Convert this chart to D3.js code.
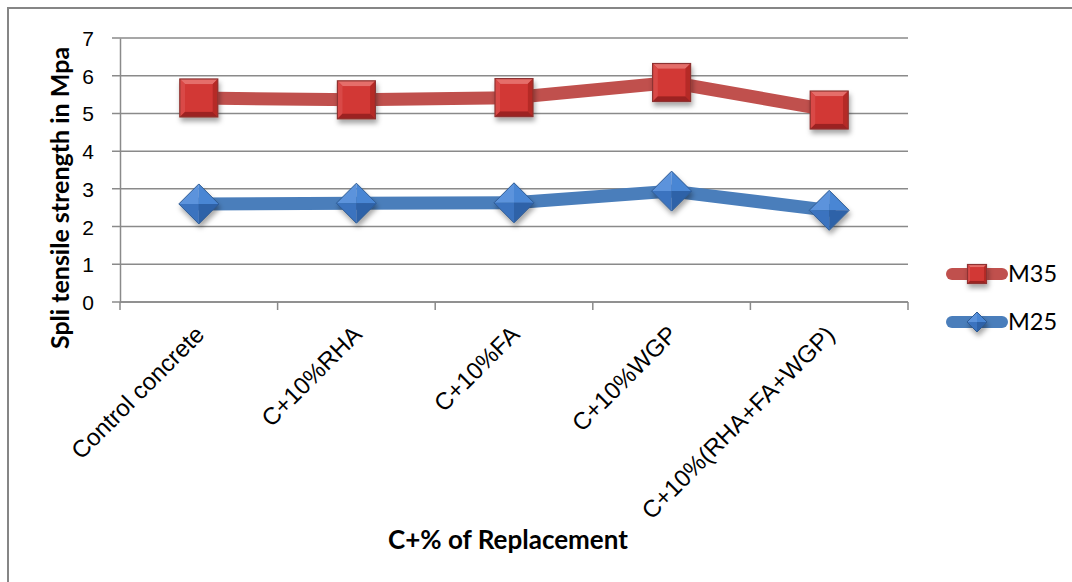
<!DOCTYPE html>
<html>
<head>
<meta charset="utf-8">
<script src="https://cdn.jsdelivr.net/npm/d3@7"></script>
<style>
  html, body { margin: 0; padding: 0; background: #fff; }
  svg { display: block; font-family: Lato, "Open Sans", sans-serif; }
</style>
</head>
<body>
<svg id="chart" width="1072" height="582"></svg>
<script>
// Split tensile strength (MPa) by replacement mix
const categories = ["Control concrete", "C+10%RHA", "C+10%FA", "C+10%WGP", "C+10%(RHA+FA+WGP)"];
const m35 = [5.41, 5.36, 5.42, 5.82, 5.09];
const m25 = [2.60, 2.62, 2.63, 2.94, 2.43];
const yTicks = [0, 1, 2, 3, 4, 5, 6, 7];
const seriesNames = ["M35", "M25"];

const svg = d3.select("#chart");
const plot = { left: 120, right: 908, top: 38, bottom: 302 };

const x = d3.scaleBand().domain(categories).range([plot.left, plot.right]);
const y = d3.scaleLinear().domain([0, 7]).range([plot.bottom, plot.top]);

// Drop shadow for the bevelled markers
const defs = svg.append("defs");
const f = defs.append("filter").attr("id", "shadow")
  .attr("x", "-50%").attr("y", "-50%").attr("width", "200%").attr("height", "200%");
f.append("feDropShadow").attr("dx", 1.5).attr("dy", 4).attr("stdDeviation", 2.5)
  .attr("flood-color", "#000").attr("flood-opacity", 0.35);

// Chart area frame
svg.append("rect").attr("x", 8).attr("y", 8).attr("width", 1100).attr("height", 600)
  .attr("fill", "#fff").attr("stroke", "#868686").attr("stroke-width", 2);

// Horizontal gridlines (extending left as tick marks)
svg.append("g").selectAll("line").data(yTicks).join("line")
  .attr("x1", plot.left - 8).attr("x2", plot.right)
  .attr("y1", d => y(d)).attr("y2", d => y(d))
  .attr("stroke", "#8a8a8a").attr("stroke-width", 1.5);

// Y axis
const yAxis = svg.append("g").attr("transform", `translate(${plot.left},0)`)
  .call(d3.axisLeft(y).tickValues(yTicks).tickFormat(d3.format("d")).tickSize(0).tickPadding(26));
yAxis.select(".domain").attr("stroke", "#8a8a8a").attr("stroke-width", 1.5);
yAxis.selectAll("text").attr("font-size", 21).attr("fill", "#000").attr("dy", "0.36em");

// X axis line and category boundary ticks
const bounds = categories.map(c => x(c)).concat([plot.right]);
svg.append("line").attr("x1", plot.left).attr("x2", plot.right)
  .attr("y1", y(0)).attr("y2", y(0)).attr("stroke", "#8a8a8a").attr("stroke-width", 1.5);
svg.append("g").selectAll("line").data(bounds).join("line")
  .attr("x1", d => d).attr("x2", d => d)
  .attr("y1", y(0)).attr("y2", y(0) + 8)
  .attr("stroke", "#8a8a8a").attr("stroke-width", 1.5);

// Rotated category labels
const xAxis = svg.append("g").attr("transform", `translate(0,${plot.bottom})`)
  .call(d3.axisBottom(x).tickSize(0).tickPadding(0));
xAxis.select(".domain").remove();
xAxis.selectAll("text")
  .attr("font-size", 24).attr("fill", "#000")
  .attr("text-anchor", "end")
  .attr("x", 0).attr("y", 0).attr("dy", 0)
  .attr("transform", "translate(7,34) rotate(-45)");

// Axis titles
svg.append("text").attr("x", 508).attr("y", 549).attr("text-anchor", "middle")
  .attr("font-size", 26).attr("font-weight", "bold").text("C+% of Replacement");
svg.append("text").attr("transform", "translate(69,198) rotate(-90)")
  .attr("text-anchor", "middle").attr("font-size", 25).attr("font-weight", "bold")
  .text("Spli tensile strength in Mpa");

const cx = c => x(c) + x.bandwidth() / 2;
const line = d3.line().x(d => cx(d.c)).y(d => y(d.v));

function squareMarker(g, px, py, s) {
  const h = s / 2, b = s * 0.14;
  const grp = g.append("g").attr("transform", `translate(${px},${py})`).attr("filter", "url(#shadow)");
  grp.append("rect").attr("x", -h).attr("y", -h).attr("width", s).attr("height", s).attr("fill", "#cf3532");
  const facet = (pts, col) => grp.append("polygon").attr("points", pts.map(p => p.join(",")).join(" ")).attr("fill", col);
  facet([[-h, -h], [h, -h], [h - b, -h + b], [-h + b, -h + b]], "#e56e6b");
  facet([[-h, -h], [-h + b, -h + b], [-h + b, h - b], [-h, h]], "#d94a47");
  facet([[h, -h], [h, h], [h - b, h - b], [h - b, -h + b]], "#b52a27");
  facet([[-h, h], [-h + b, h - b], [h - b, h - b], [h, h]], "#9c2422");
  grp.append("rect").attr("x", -h + b).attr("y", -h + b).attr("width", s - 2 * b).attr("height", s - 2 * b)
    .attr("fill", "#d23936");
  grp.append("rect").attr("x", -h).attr("y", -h).attr("width", s).attr("height", s)
    .attr("fill", "none").attr("stroke", "#8e3330").attr("stroke-width", 1.2);
}

function diamondMarker(g, px, py, r) {
  const grp = g.append("g").attr("transform", `translate(${px},${py})`).attr("filter", "url(#shadow)");
  const T = [0, -r], R = [r, 0], B = [0, r], L = [-r, 0], C = [0, 0];
  const facet = (pts, col) => grp.append("polygon").attr("points", pts.map(p => p.join(",")).join(" ")).attr("fill", col);
  facet([L, T, C], "#5b93dc");
  facet([T, R, C], "#4a86d4");
  facet([L, C, B], "#3b73bf");
  facet([C, R, B], "#2f62a8");
  grp.append("polygon").attr("points", [T, R, B, L].map(p => p.join(",")).join(" "))
    .attr("fill", "none").attr("stroke", "#2d5a92").attr("stroke-width", 1);
}

const series = [
  { name: seriesNames[0], values: m35, color: "#c0504d", marker: "square" },
  { name: seriesNames[1], values: m25, color: "#4a7ebb", marker: "diamond" }
];

series.slice().reverse().forEach(s => {
  const data = categories.map((c, i) => ({ c, v: s.values[i] }));
  const g = svg.append("g");
  g.append("path").datum(data).attr("d", line).attr("fill", "none")
    .attr("stroke", s.color).attr("stroke-width", 13)
    .attr("stroke-linejoin", "round").attr("stroke-linecap", "round");
  data.forEach(d => {
    if (s.marker === "square") squareMarker(g, cx(d.c), y(d.v), 38);
    else diamondMarker(g, cx(d.c), y(d.v), 20);
  });
});

// Legend
const legend = svg.append("g");
series.forEach((s, i) => {
  const ly = 274 + i * 48;
  legend.append("line").attr("x1", 952).attr("x2", 1002).attr("y1", ly).attr("y2", ly)
    .attr("stroke", s.color).attr("stroke-width", 12).attr("stroke-linecap", "round");
  if (s.marker === "square") squareMarker(legend, 977, ly, 19);
  else diamondMarker(legend, 977, ly, 10);
  legend.append("text").attr("x", 1008).attr("y", ly).attr("dy", "0.36em")
    .attr("font-size", 23.5).attr("fill", "#000").text(s.name);
});
</script>
</body>
</html>
